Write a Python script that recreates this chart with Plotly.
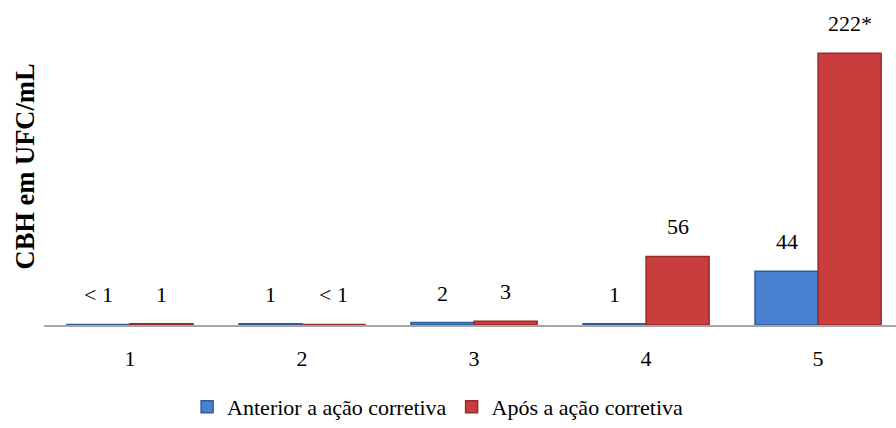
import plotly.graph_objects as go

# Sampling points and colony counts (CFU/mL) before and after the corrective action
categories = ["1", "2", "3", "4", "5"]
anterior_values = [0.5, 1, 2, 1, 44]
apos_values = [1, 0.5, 3, 56, 222]
anterior_labels = ["< 1", "1", "2", "1", "44"]
apos_labels = ["1", "< 1", "3", "56", "222*"]

series_names = ["Anterior a ação corretiva", "Após a ação corretiva"]

FONT = "Liberation Serif"
BLUE = "#4A80D0"
BLUE_EDGE = "#2E5C9C"
RED = "#C93D3D"
RED_EDGE = "#982A2A"

fig = go.Figure()
fig.add_trace(go.Bar(
    x=categories, y=anterior_values, name=series_names[0],
    marker=dict(color=BLUE, line=dict(color=BLUE_EDGE, width=1.5)),
))
fig.add_trace(go.Bar(
    x=categories, y=apos_values, name=series_names[1],
    marker=dict(color=RED, line=dict(color=RED_EDGE, width=1.5)),
))

# value labels above each bar (category index on the x axis, shifted half a bar)
bar_half = 31.5
for i, (v, t) in enumerate(zip(anterior_values, anterior_labels)):
    fig.add_annotation(x=i, y=v, text=t, showarrow=False, xshift=-bar_half,
                       yanchor="bottom", yshift=15,
                       font=dict(family=FONT, size=22, color="black"))
for i, (v, t) in enumerate(zip(apos_values, apos_labels)):
    fig.add_annotation(x=i, y=v, text=t, showarrow=False, xshift=bar_half,
                       yanchor="bottom", yshift=15,
                       font=dict(family=FONT, size=22, color="black"))

# y axis title
fig.add_annotation(x=0, y=0.5, xref="paper", yref="paper", text="<b>CBH em UFC/mL</b>",
                   textangle=-90, showarrow=False, xanchor="center", yanchor="middle",
                   xshift=-20, yshift=6,
                   font=dict(family=FONT, size=26.5, color="black"))

fig.update_layout(
    width=896, height=428,
    margin=dict(l=44, r=0, t=20, b=100.5),
    paper_bgcolor="white", plot_bgcolor="white",
    barmode="group", bargap=0.267, bargroupgap=0,
    font=dict(family=FONT, size=22, color="black"),
    showlegend=True,
    legend=dict(orientation="h", x=0.462, xanchor="center", y=-0.2, yanchor="top",
                font=dict(family=FONT, size=22, color="black"),
                itemwidth=30, traceorder="normal"),
    xaxis=dict(range=[-0.5, 4.453], showline=True, linecolor="#A6A6A6", linewidth=1.5,
               ticks="outside", ticklen=13, tickcolor="rgba(0,0,0,0)",
               tickfont=dict(family=FONT, size=22, color="black"), showgrid=False),
    yaxis=dict(range=[0, 249.1], showticklabels=False, showgrid=False, zeroline=False,
               showline=False, ticks=""),
)

fig.write_html("out.html")
